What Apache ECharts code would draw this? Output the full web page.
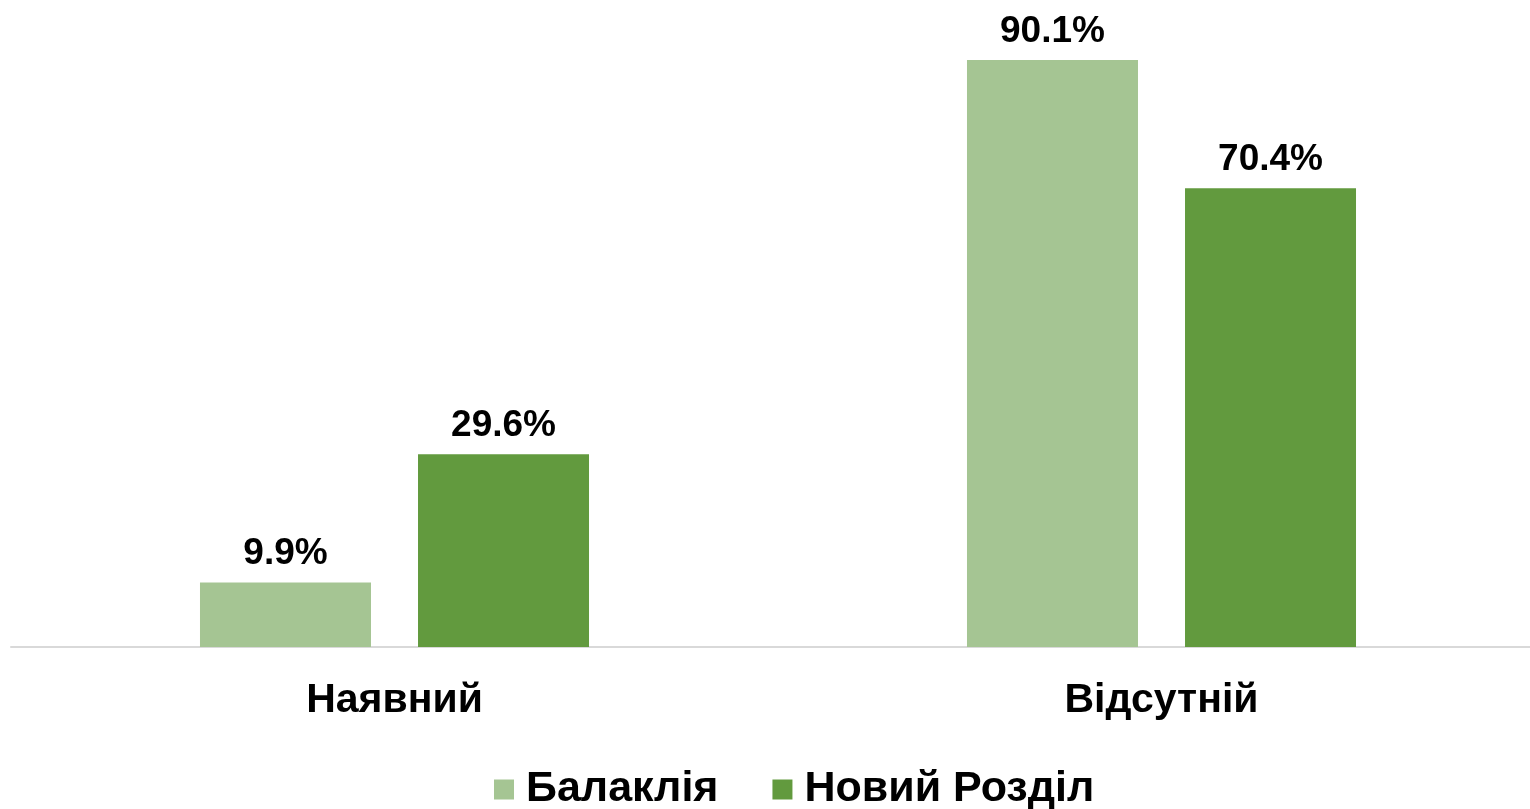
<!DOCTYPE html>
<html>
<head>
<meta charset="utf-8">
<style>
  html, body { margin: 0; padding: 0; background: #fff; }
  #main { width: 1530px; height: 809px; }
</style>
</head>
<body>
<div id="main"></div>
<script src="https://cdn.jsdelivr.net/npm/echarts@6/dist/echarts.min.js"></script>
<script>
var categories = ['Наявний', 'Відсутній'];
var seriesNames = ['Балаклія', 'Новий Розділ'];
var balakliia = [9.9, 90.1];
var novyiRozdil = [29.6, 70.4];

var colors = ['#a5c593', '#629a3e'];
var font = 'Arial, "Liberation Sans", sans-serif';

var chart = echarts.init(document.getElementById('main'));

function barSeries(name, data, color) {
    return {
        name: name,
        type: 'bar',
        data: data,
        barWidth: 171,
        barGap: '27.5%',
        itemStyle: { color: color },
        label: {
            show: true,
            position: 'top',
            distance: 10,
            formatter: function (p) { return p.value.toFixed(1) + '%'; },
            fontFamily: font,
            fontWeight: 'bold',
            fontSize: 37,
            color: '#000'
        }
    };
}

chart.setOption({
    animation: false,
    grid: {
        left: 11, width: 1534, top: 60, bottom: 162,
        containLabel: false, outerBoundsMode: 'none'
    },
    legend: {
        left: 489,
        top: 763,
        itemWidth: 20,
        itemHeight: 20,
        itemGap: 54,
        icon: 'rect',
        data: seriesNames,
        textStyle: {
            fontFamily: font,
            fontWeight: 'bold',
            fontSize: 43,
            color: '#000',
            padding: [0, 0, 0, 7]
        }
    },
    xAxis: {
        type: 'category',
        data: categories,
        axisLine: { lineStyle: { color: '#d9d9d9', width: 2 } },
        axisTick: { show: false },
        axisLabel: {
            margin: 33,
            fontFamily: font,
            fontWeight: 'bold',
            fontSize: 41,
            color: '#000'
        }
    },
    yAxis: {
        type: 'value',
        min: 0,
        max: 90.1,
        show: false,
        splitLine: { show: false }
    },
    series: [
        barSeries(seriesNames[0], balakliia, colors[0]),
        barSeries(seriesNames[1], novyiRozdil, colors[1])
    ]
});
</script>
</body>
</html>
